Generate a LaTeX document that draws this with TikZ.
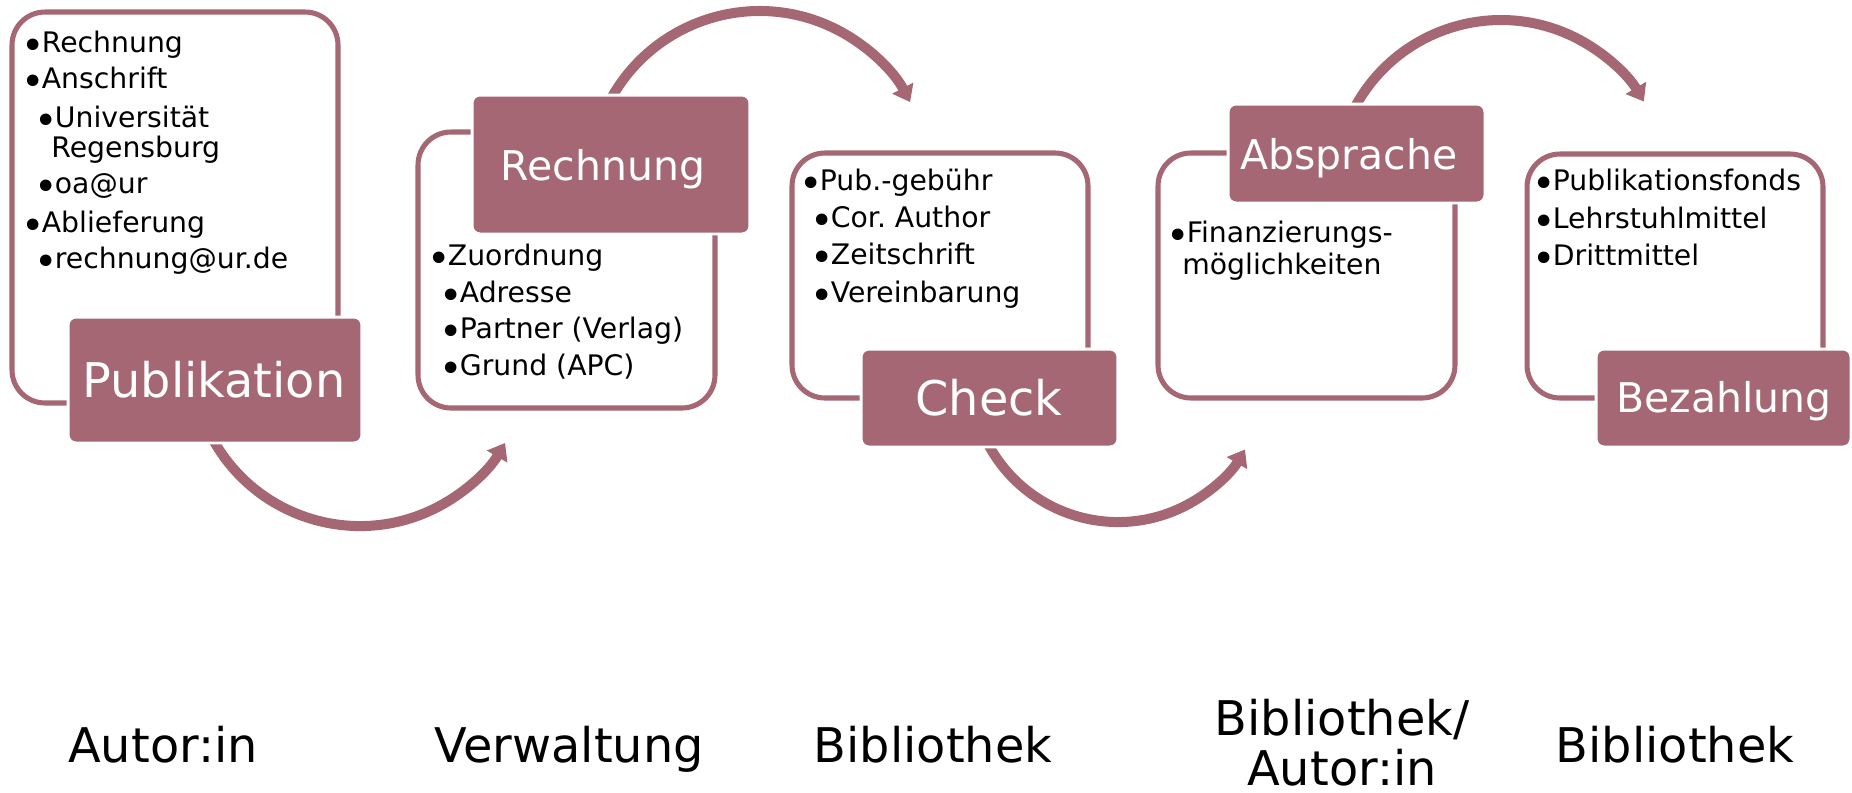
\documentclass[tikz,border=0pt]{standalone}
\usepackage{fontspec}
\setmainfont{DejaVu Sans}
\usetikzlibrary{arrows.meta}
\definecolor{mauve}{RGB}{164,103,115}
\newcommand\bul{\raisebox{-0.25em}[0.5em][0pt]{\scalebox{1.4}{•}}\kern-0.1em}
\begin{document}
\frenchspacing
\begin{tikzpicture}[x=0.02cm,y=-0.02cm,
  outline/.style={draw=mauve, line width=2.9pt, rounded corners=18.7pt, inner sep=0pt},
  stage/.style={fill=mauve, draw=white, line width=1.7pt, rounded corners=4.5pt, inner sep=0pt},
  stagetxt/.style={anchor=base, inner sep=0pt, text=white, font=\fontsize{23.3}{28}\selectfont},
  bigtxt/.style={stagetxt, font=\fontsize{27.2}{30}\selectfont},
  flow/.style={draw=mauve, line width=5.7pt, -{Triangle[width=13pt,length=9pt]}},
  itm/.style={anchor=base west, inner sep=0pt, font=\fontsize{16.1}{19}\selectfont},
  who/.style={anchor=base, inner sep=0pt, font=\fontsize{27.2}{30}\selectfont}
]
\useasboundingbox (0,0) rectangle (1852,792);

% arrows (drawn first, boxes cover their starts)
\coordinate (a1s) at (211.5,436.8);
\coordinate (a2s) at (609.7,101.1);
\coordinate (a3s) at (986.8,441.6);
\coordinate (a4s) at (1354.4,108.1);
\draw[flow] (a1s) arc[start angle=152, end angle=30.4, radius=168.2];
\draw[flow] (a2s) arc[start angle=-152, end angle=-27.6, radius=169.8];
\draw[flow] (a3s) arc[start angle=153, end angle=30.5, radius=147.3];
\draw[flow] (a4s) arc[start angle=-152, end angle=-30.6, radius=166];

% outline boxes
\node[outline, minimum width=6.52cm, minimum height=7.82cm] (o1) at (175,207.5) {};
\node[outline, minimum width=5.94cm, minimum height=5.52cm] (o2) at (566.5,270) {};
\node[outline, minimum width=5.92cm, minimum height=4.90cm] (o3) at (940,275.5) {};
\node[outline, minimum width=5.94cm, minimum height=4.90cm] (o4) at (1306.5,275.5) {};
\node[outline, minimum width=5.92cm, minimum height=4.88cm] (o5) at (1675,276) {};

% stage boxes
\node[stage, minimum width=5.88cm, minimum height=2.52cm] (pub) at (215,380) {};
\node[stage, minimum width=5.56cm, minimum height=2.78cm] (rech) at (611,164.5) {};
\node[stage, minimum width=5.14cm, minimum height=1.96cm] (check) at (989.5,398) {};
\node[stage, minimum width=5.14cm, minimum height=1.98cm] (abs) at (1356.5,153.5) {};
\node[stage, minimum width=5.10cm, minimum height=1.96cm] (bez) at (1723.5,398) {};
\node[bigtxt] (pubt) at (214,397) {Publikation};
\node[stagetxt] (recht) at (603,180) {Rechnung};
\node[bigtxt] (checkt) at (989,415) {Check};
\node[stagetxt] (abst) at (1349,169) {Absprache};
\node[stagetxt] (bezt) at (1724,412) {Bezahlung};

% box 1 items
\node[itm] (p1) at (21,52) {\bul Rechnung};
\node[itm] (p2) at (21,88) {\bul Anschrift};
\node[itm] (p3) at (34,127) {\bul Universität};
\node[itm] (p4) at (51,157) {Regensburg};
\node[itm] (p5) at (34,193) {\bul oa@ur};
\node[itm] (p6) at (21,232) {\bul Ablieferung};
\node[itm] (p7) at (34,268) {\bul rechnung@ur.de};

% box 2 items
\node[itm] (r1) at (427,265) {\bul Zuordnung};
\node[itm] (r2) at (439,302) {\bul Adresse};
\node[itm] (r3) at (439,338) {\bul Partner (Verlag)};
\node[itm] (r4) at (439,375) {\bul Grund (APC)};

% box 3 items
\node[itm] (c1) at (799,190) {\bul Pub.-gebühr};
\node[itm] (c2) at (810,227) {\bul Cor. Author};
\node[itm] (c3) at (810,264) {\bul Zeitschrift};
\node[itm] (c4) at (810,302) {\bul Vereinbarung};

% box 4 items
\node[itm] (f1) at (1166,242) {\bul Finanzierungs-};
\node[itm] (f2) at (1182,274) {möglichkeiten};

% box 5 items
\node[itm] (z1) at (1532,190) {\bul Publikationsfonds};
\node[itm] (z2) at (1532,228) {\bul Lehrstuhlmittel};
\node[itm] (z3) at (1532,265) {\bul Drittmittel};

% actors
\node[who] (w1) at (163,762) {Autor:in};
\node[who] (w2) at (569,762) {Verwaltung};
\node[who] (w3) at (933,762) {Bibliothek};
\node[who] (w4a) at (1342,735) {Bibliothek/};
\node[who] (w4b) at (1342,785) {Autor:in};
\node[who] (w5) at (1675,762) {Bibliothek};
\end{tikzpicture}
\end{document}
